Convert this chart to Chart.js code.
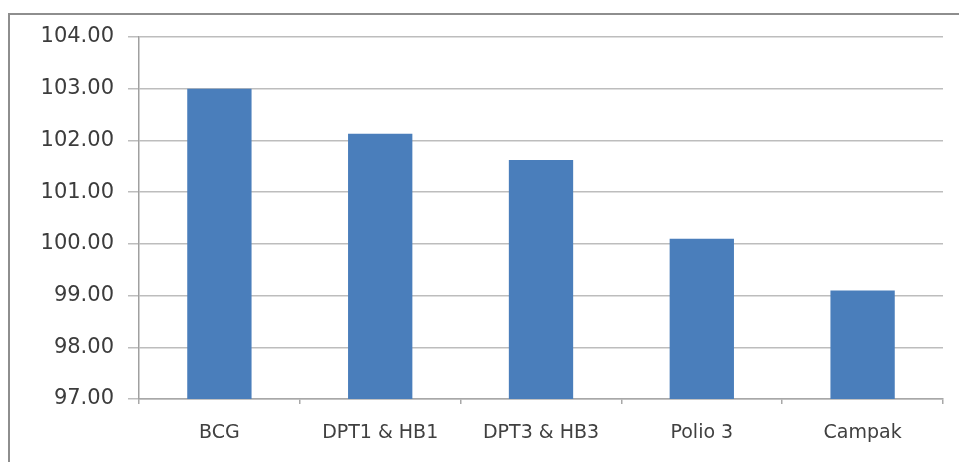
<!DOCTYPE html>
<html>
<head>
<meta charset="utf-8">
<script src="https://cdn.jsdelivr.net/npm/chart.js@4/dist/chart.umd.min.js"></script>
<style>
  html, body { margin: 0; padding: 0; background: #fff; }
  #wrap { position: relative; width: 959px; height: 462px; overflow: hidden; }
  #frame { position: absolute; left: 8px; top: 13px; width: 960px; height: 460px;
           border-left: 2px solid #8e8e8e; border-top: 2px solid #8e8e8e; }
  #chart { position: absolute; left: 0; top: 0; }
</style>
</head>
<body>
<div id="wrap">
  <div id="frame"></div>
  <canvas id="chart" width="959" height="462"></canvas>
</div>
<script>
const categories = ['BCG', 'DPT1 & HB1', 'DPT3 & HB3', 'Polio 3', 'Campak'];
const values = [103.0, 102.13, 101.62, 100.1, 99.1];
const yMin = 97;
const yMax = 104;

const ctx = document.getElementById('chart');
new Chart(ctx, {
    type: 'bar',
    data: {
        labels: categories,
        datasets: [{
            data: values,
            backgroundColor: '#4a7ebb',
            borderWidth: 0,
            categoryPercentage: 1,
            barPercentage: 0.4
        }]
    },
    options: {
        responsive: false,
        animation: false,
        layout: { padding: { top: 37, right: 16, left: 0, bottom: 0 } },
        plugins: {
            legend: { display: false },
            tooltip: { enabled: false }
        },
        scales: {
            x: {
                offset: true,
                grid: {
                    offset: true,
                    drawOnChartArea: false,
                    drawTicks: true,
                    tickLength: 5,
                    color: '#a8a8a8',
                    lineWidth: 1.5
                },
                border: { color: '#a8a8a8', width: 1.5 },
                ticks: {
                    color: '#404040',
                    padding: 18,
                    font: { family: 'DejaVu Sans', size: 19 }
                },
                afterFit: (scale) => { scale.height = 63; }
            },
            y: {
                min: yMin,
                max: yMax,
                grid: {
                    color: '#bdbdbd',
                    lineWidth: 1.5,
                    drawTicks: true,
                    tickLength: 11
                },
                border: { color: '#a0a0a0', width: 1.5 },
                ticks: {
                    stepSize: 1,
                    color: '#3c3c3c',
                    padding: 14,
                    font: { family: 'DejaVu Sans', size: 21 },
                    callback: (v) => Number(v).toFixed(2)
                },
                afterFit: (scale) => { scale.width = 139; }
            }
        }
    }
});
</script>
</body>
</html>
